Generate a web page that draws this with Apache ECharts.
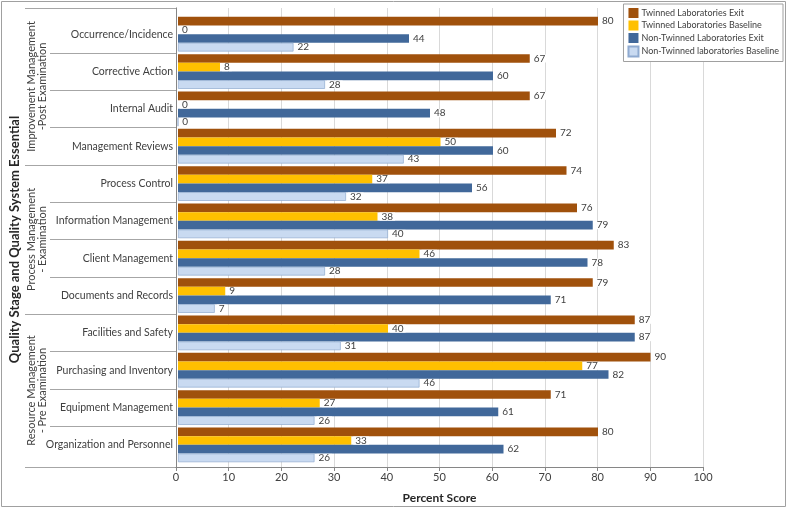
<!DOCTYPE html>
<html><head><meta charset="utf-8">
<script src="https://cdn.jsdelivr.net/npm/echarts@6/dist/echarts.min.js"></script>
<style>html,body{margin:0;padding:0;background:#fff}#c{width:787px;height:509px}</style>
</head><body><div id="c"></div>
<script>
const categories = ["Occurrence/Incidence","Corrective Action","Internal Audit","Management Reviews","Process Control","Information Management","Client Management","Documents and Records","Facilities and Safety","Purchasing and Inventory","Equipment Management","Organization and Personnel"];
const twinnedExit = [80,67,67,72,74,76,83,79,87,90,71,80];
const twinnedBaseline = [0,8,0,50,37,38,46,9,40,77,27,33];
const nonTwinnedExit = [44,60,48,60,56,79,78,71,87,82,61,62];
const nonTwinnedBaseline = [22,28,0,43,32,40,28,7,31,46,26,26];
const seriesNames = ["Twinned Laboratories Exit","Twinned Laboratories Baseline","Non-Twinned Laboratories Exit","Non-Twinned laboratories Baseline"];
const groups = [
  {text:"Improvement Management\n-Post Examination", from:0, to:3},
  {text:"Process Management\n- Examination", from:4, to:7},
  {text:"Resource Management\n- Pre Examination", from:8, to:11}
];
const xTicks = {min:0, max:100, interval:10};

const FONT = "Lato";
const TXT = "#404040";
const colors = ["#A0510C","#FFC000","#41689A","#C9DAF1"];
const borders = ["#A0510C","#FFC000","#41689A","#8FAAD0"];
const values = [twinnedExit, twinnedBaseline, nonTwinnedExit, nonTwinnedBaseline];

const chart = echarts.init(document.getElementById('c'), null, {renderer:'canvas'});
const option = {
  animation:false,
  textStyle:{fontFamily:FONT},
  legend:{
    orient:'vertical', right:4, top:4, itemWidth:10, itemHeight:10, itemGap:2.5,
    padding:[4,4,4,4], borderColor:'#A0A0A0', borderWidth:1, backgroundColor:'#fff',
    textStyle:{fontFamily:FONT, fontSize:9, color:TXT, padding:[0,0,0,-2]},
    icon:'rect', data:seriesNames
  },
  grid:[
    {left:176, right:84, top:8, height:462, z:0},
    {left:176, right:84, top:15.5, height:448}
  ],
  xAxis:[
    {gridIndex:0, type:'value', min:xTicks.min, max:xTicks.max, interval:xTicks.interval, position:'bottom',
     axisLine:{show:true, lineStyle:{color:'#868686'}}, axisTick:{show:true, length:4, lineStyle:{color:'#868686'}},
     axisLabel:{color:TXT, fontSize:11, fontFamily:FONT, margin:5},
     splitLine:{show:true, lineStyle:{color:'#D9D9D9'}},
     name:'Percent Score', nameLocation:'middle', nameGap:25,
     nameTextStyle:{fontFamily:FONT, fontWeight:'bold', fontSize:12, color:'#262626'}},
    {gridIndex:0, type:'value', min:0, max:100, position:'top', axisLine:{show:true, lineStyle:{color:'#868686'}},
     axisTick:{show:false}, axisLabel:{show:false}, splitLine:{show:false}},
    {gridIndex:1, type:'value', min:xTicks.min, max:xTicks.max, show:false}
  ],
  yAxis:[
    {gridIndex:0, type:'value', min:0, max:1, position:'left', axisLine:{show:true, lineStyle:{color:'#BFBFBF'}},
     axisTick:{show:false}, axisLabel:{show:false}, splitLine:{show:false}},
    {gridIndex:0, type:'value', min:0, max:1, position:'right', axisLine:{show:true, lineStyle:{color:'#868686'}},
     axisTick:{show:false}, axisLabel:{show:false}, splitLine:{show:false}},
    {gridIndex:1, type:'category', data:categories, inverse:true,
     axisLine:{show:false}, axisTick:{show:false},
     axisLabel:{color:TXT, fontSize:10.5, fontFamily:FONT, margin:5},
     name:'Quality Stage and Quality System Essential', nameLocation:'middle', nameRotate:90, nameGap:157,
     nameTextStyle:{fontFamily:FONT, fontWeight:'bold', fontSize:13, color:'#262626'}}
  ],
  series: seriesNames.map((n,i)=>({
    name:n, type:'bar', xAxisIndex:2, yAxisIndex:2, data:values[i],
    barGap:'0%', barCategoryGap:'7%',
    itemStyle:{color:colors[i], borderColor:borders[i], borderWidth: i===3?0.7:0},
    label:{show:true, position:'right', distance:2, color:TXT, fontSize:10, fontFamily:FONT,
      backgroundColor:'#fff', padding:[0,2,0,2], lineHeight:8, borderRadius:0, borderWidth:0,
      textBorderWidth:0, textShadowBlur:0}
  }))
};
chart.setOption(option);

// decorative structure on the left (derived from axis scales)
const c0 = chart.convertToPixel({yAxisIndex:2}, categories[0]);
const c1 = chart.convertToPixel({yAxisIndex:2}, categories[1]);
const step = c1 - c0;
const topY = chart.convertToPixel({yAxisIndex:0}, 1);
const botY = chart.convertToPixel({yAxisIndex:0}, 0);
const plotLeft = chart.convertToPixel({xAxisIndex:0}, 0);
const boundary = k => k===0 ? topY : (k===categories.length ? botY : c0 - step/2 + k*step);
const groupStarts = new Set(groups.map(g=>g.from).concat([categories.length]));
const gfx = [];
for (let k=0;k<=categories.length;k++){
  const y = Math.round(boundary(k))+0.5;
  const x0 = groupStarts.has(k) ? 25 : 50;
  gfx.push({type:'line', shape:{x1:x0, y1:y, x2:plotLeft, y2:y}, style:{stroke:'#A6A6A6', lineWidth:1}, silent:true});
}
groups.forEach(g=>{
  const yc = (boundary(g.from) + boundary(g.to+1))/2;
  gfx.push({type:'text', x:37, y:yc, rotation:Math.PI/2,
    style:{text:g.text, fontFamily:FONT, fontSize:11, fill:TXT, align:'center', verticalAlign:'middle', lineHeight:11}, silent:true});
});
gfx.push({type:'rect', shape:{x:1.5, y:1.5, width:784, height:505}, style:{fill:null, stroke:'#A0A0A0', lineWidth:1}, silent:true, z:-1});
chart.setOption({graphic:gfx});
</script></body></html>
